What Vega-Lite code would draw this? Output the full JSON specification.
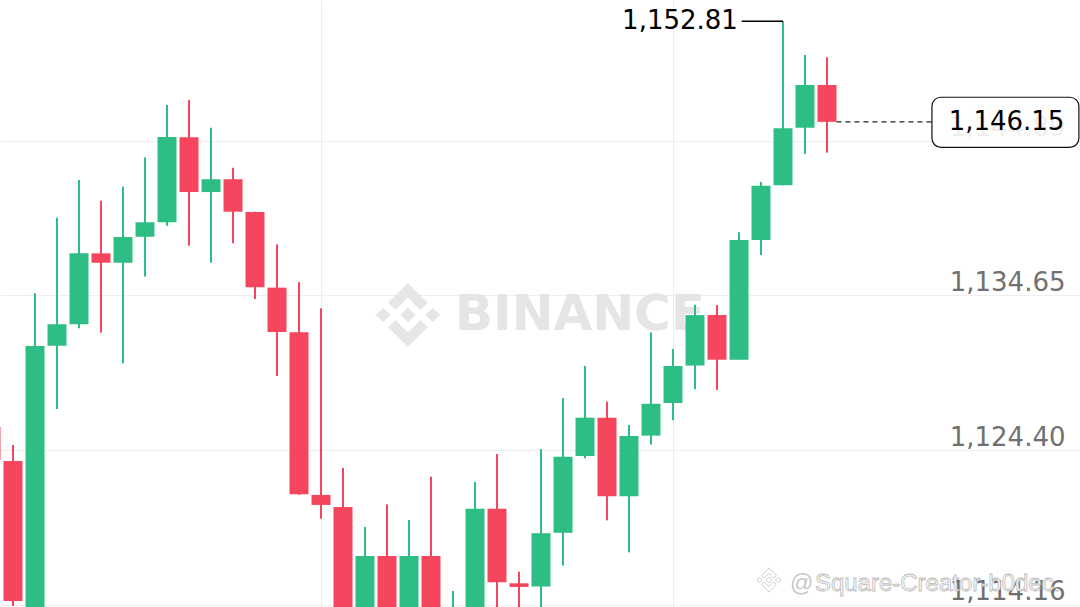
{
  "$schema": "https://vega.github.io/schema/vega-lite/v6.json",
  "width": 1080,
  "height": 607,
  "padding": 0,
  "autosize": "none",
  "background": "#ffffff",
  "config": {"view": {"stroke": null}},
  "datasets": {
    "candles": [
      {"i": -1, "o": 1125.94, "h": 1126.5, "l": 1123.3, "c": 1123.76},
      {"i": 0, "o": 1123.69, "h": 1124.75, "l": 1114.09, "c": 1114.42},
      {"i": 1, "o": 1113.9, "h": 1134.8, "l": 1113.6, "c": 1131.31},
      {"i": 2, "o": 1131.33, "h": 1139.8, "l": 1127.13, "c": 1132.74},
      {"i": 3, "o": 1132.74, "h": 1142.3, "l": 1132.48, "c": 1137.44},
      {"i": 4, "o": 1137.44, "h": 1140.93, "l": 1132.19, "c": 1136.82},
      {"i": 5, "o": 1136.82, "h": 1141.86, "l": 1130.16, "c": 1138.52},
      {"i": 6, "o": 1138.54, "h": 1143.8, "l": 1135.9, "c": 1139.5},
      {"i": 7, "o": 1139.5, "h": 1147.27, "l": 1139.27, "c": 1145.15},
      {"i": 8, "o": 1145.13, "h": 1147.6, "l": 1137.95, "c": 1141.5},
      {"i": 9, "o": 1141.5, "h": 1145.76, "l": 1136.82, "c": 1142.35},
      {"i": 10, "o": 1142.35, "h": 1143.11, "l": 1138.11, "c": 1140.2},
      {"i": 11, "o": 1140.18, "h": 1140.2, "l": 1134.42, "c": 1135.19},
      {"i": 12, "o": 1135.17, "h": 1138.04, "l": 1129.32, "c": 1132.23},
      {"i": 13, "o": 1132.21, "h": 1135.54, "l": 1121.45, "c": 1121.48},
      {"i": 14, "o": 1121.44, "h": 1133.8, "l": 1119.87, "c": 1120.78},
      {"i": 15, "o": 1120.64, "h": 1123.23, "l": 1113.5, "c": 1113.8},
      {"i": 16, "o": 1113.8, "h": 1119.32, "l": 1113.5, "c": 1117.4},
      {"i": 17, "o": 1117.4, "h": 1120.82, "l": 1113.5, "c": 1113.8},
      {"i": 18, "o": 1113.8, "h": 1119.78, "l": 1113.5, "c": 1117.4},
      {"i": 19, "o": 1117.4, "h": 1122.65, "l": 1113.5, "c": 1113.8},
      {"i": 20, "o": 1113.6, "h": 1115.08, "l": 1113.4, "c": 1113.9},
      {"i": 21, "o": 1113.8, "h": 1122.3, "l": 1113.5, "c": 1120.53},
      {"i": 22, "o": 1120.53, "h": 1124.15, "l": 1113.5, "c": 1115.66},
      {"i": 23, "o": 1115.59, "h": 1116.36, "l": 1113.6, "c": 1115.35},
      {"i": 24, "o": 1115.37, "h": 1124.48, "l": 1113.6, "c": 1118.9},
      {"i": 25, "o": 1118.94, "h": 1127.86, "l": 1116.76, "c": 1123.97},
      {"i": 26, "o": 1124.02, "h": 1129.98, "l": 1123.87, "c": 1126.56},
      {"i": 27, "o": 1126.56, "h": 1127.62, "l": 1119.76, "c": 1121.35},
      {"i": 28, "o": 1121.35, "h": 1126.07, "l": 1117.64, "c": 1125.35},
      {"i": 29, "o": 1125.37, "h": 1132.21, "l": 1124.77, "c": 1127.48},
      {"i": 30, "o": 1127.53, "h": 1131.11, "l": 1126.39, "c": 1129.98},
      {"i": 31, "o": 1130.01, "h": 1134.04, "l": 1128.44, "c": 1133.35},
      {"i": 32, "o": 1133.36, "h": 1134.02, "l": 1128.39, "c": 1130.4},
      {"i": 33, "o": 1130.4, "h": 1138.84, "l": 1130.4, "c": 1138.33},
      {"i": 34, "o": 1138.33, "h": 1142.17, "l": 1137.33, "c": 1141.92},
      {"i": 35, "o": 1141.95, "h": 1152.81, "l": 1141.95, "c": 1145.72},
      {"i": 36, "o": 1145.76, "h": 1150.58, "l": 1144.02, "c": 1148.59},
      {"i": 37, "o": 1148.59, "h": 1150.43, "l": 1144.11, "c": 1146.15}
    ]
  },
  "layer": [
    {
      "data": {"values": [{"x": 17.95, "y": 1133.36}]},
      "mark": {
        "type": "point",
        "filled": true,
        "opacity": 1,
        "color": "#e6e6e6",
        "size": 4096,
        "shape": "M-0.39,-0.16L0,-0.548L0.39,-0.156L0.618,-0.385L0,-1L-0.616,-0.384ZM-1,0L-0.773,-0.227L-0.545,0L-0.773,0.227ZM-0.39,0.16L0,0.548L0.39,0.158L0.618,0.385L0,1L-0.618,0.385ZM0.545,0L0.773,-0.227L1,0L0.773,0.227ZM0.231,0L0,-0.231L-0.231,0L0,0.231Z"
      },
      "encoding": {
        "x": {"field": "x", "type": "quantitative", "scale": {"domain": [-0.591, 48.5], "nice": false, "zero": false, "padding": 0},
              "axis": {"values": [14, 30], "grid": true, "gridColor": "#eeeeee", "gridWidth": 1, "labels": false, "ticks": false, "domain": false, "title": null}},
        "y": {"field": "y", "type": "quantitative", "scale": {"domain": [1114.02, 1154.22], "nice": false, "zero": false, "padding": 0},
              "axis": {"orient": "right", "values": [1114.16, 1124.4, 1134.65, 1144.89], "format": ",.2f", "grid": true, "gridColor": "#eeeeee", "gridWidth": 1,
                       "ticks": false, "tickSize": 0, "domain": false, "labelPadding": -15, "labelAlign": "right", "labelBaseline": "alphabetic",
                       "labelOffset": -5, "labelFont": "DejaVu Sans", "labelFontSize": 26, "labelColor": "#707070", "labelFlush": false,
                       "labelOverlap": false, "title": null}}
      }
    },
    {
      "data": {"values": [{"x": 20.09, "y": 1133.39, "t": "BINANCE"}]},
      "mark": {"type": "text", "align": "left", "baseline": "middle", "font": "DejaVu Sans", "fontWeight": "bold", "fontSize": 50, "color": "#e5e5e5"},
      "encoding": {
        "x": {"field": "x", "type": "quantitative"},
        "y": {"field": "y", "type": "quantitative"},
        "text": {"field": "t"}
      }
    },
    {
      "data": {"values": [{"x": 34.36, "y": 1115.81}]},
      "mark": {
        "type": "point",
        "filled": false,
        "opacity": 1,
        "stroke": "#c4c4c4",
        "strokeWidth": 0.9,
        "size": 576,
        "shape": "M-0.39,-0.16L0,-0.548L0.39,-0.156L0.618,-0.385L0,-1L-0.616,-0.384ZM-1,0L-0.773,-0.227L-0.545,0L-0.773,0.227ZM-0.39,0.16L0,0.548L0.39,0.158L0.618,0.385L0,1L-0.618,0.385ZM0.545,0L0.773,-0.227L1,0L0.773,0.227ZM0.231,0L0,-0.231L-0.231,0L0,0.231Z"
      },
      "encoding": {
        "x": {"field": "x", "type": "quantitative"},
        "y": {"field": "y", "type": "quantitative"}
      }
    },
    {
      "data": {"values": [{"x": 35.32, "y": 1115.54, "t": "@"}]},
      "mark": {"type": "text", "align": "left", "baseline": "middle", "font": "Liberation Sans", "fontSize": 23, "color": "#c8c8c8"},
      "encoding": {
        "x": {"field": "x", "type": "quantitative"},
        "y": {"field": "y", "type": "quantitative"},
        "text": {"field": "t"}
      }
    },
    {
      "data": {"values": [{"x": 36.45, "y": 1115.54, "t": "Square-Creator-b0dec."}]},
      "mark": {"type": "text", "align": "left", "baseline": "middle", "font": "Liberation Sans", "fontSize": 24, "fill": "#ffffff", "stroke": "#b8b8b8", "strokeWidth": 0.8},
      "encoding": {
        "x": {"field": "x", "type": "quantitative"},
        "y": {"field": "y", "type": "quantitative"},
        "text": {"field": "t"}
      }
    },
    {
      "data": {"name": "candles"},
      "mark": {"type": "rule", "strokeWidth": 2, "clip": true},
      "encoding": {
        "x": {"field": "i", "type": "quantitative"},
        "y": {"field": "l", "type": "quantitative"},
        "y2": {"field": "h"},
        "color": {"condition": {"test": "datum.c >= datum.o", "value": "#2ebd85"}, "value": "#f6465d"}
      }
    },
    {
      "data": {"name": "candles"},
      "mark": {"type": "bar", "size": 19, "orient": "vertical", "clip": true},
      "encoding": {
        "x": {"field": "i", "type": "quantitative"},
        "y": {"field": "o", "type": "quantitative"},
        "y2": {"field": "c"},
        "color": {"condition": {"test": "datum.c >= datum.o", "value": "#2ebd85"}, "value": "#f6465d"}
      }
    },
    {
      "data": {"values": [{"x": 33.12, "x2": 35, "y": 1152.81}]},
      "mark": {"type": "rule", "color": "#000000", "strokeWidth": 1.4},
      "encoding": {
        "x": {"field": "x", "type": "quantitative"},
        "x2": {"field": "x2"},
        "y": {"field": "y", "type": "quantitative"}
      }
    },
    {
      "data": {"values": [{"x": 32.95, "y": 1152.81, "t": "1,152.81"}]},
      "mark": {"type": "text", "align": "right", "baseline": "middle", "font": "DejaVu Sans", "fontSize": 26, "color": "#000000"},
      "encoding": {
        "x": {"field": "x", "type": "quantitative"},
        "y": {"field": "y", "type": "quantitative"},
        "text": {"field": "t"}
      }
    },
    {
      "data": {"values": [{"x": 37.43, "x2": 41.77, "y": 1146.15}]},
      "mark": {"type": "rule", "color": "#222222", "strokeWidth": 1.2, "strokeDash": [5, 4]},
      "encoding": {
        "x": {"field": "x", "type": "quantitative"},
        "x2": {"field": "x2"},
        "y": {"field": "y", "type": "quantitative"}
      }
    },
    {
      "data": {"values": [{"x": 41.77, "x2": 48.45, "y": 1147.78, "y2": 1144.46}]},
      "mark": {"type": "rect", "fill": "#ffffff", "fillOpacity": 0.88, "stroke": "#111111", "strokeWidth": 1.2, "cornerRadius": 9},
      "encoding": {
        "x": {"field": "x", "type": "quantitative"},
        "x2": {"field": "x2"},
        "y": {"field": "y", "type": "quantitative"},
        "y2": {"field": "y2"}
      }
    },
    {
      "data": {"values": [{"x": 45.16, "y": 1146.15, "t": "1,146.15"}]},
      "mark": {"type": "text", "align": "center", "baseline": "middle", "font": "DejaVu Sans", "fontSize": 26, "color": "#000000"},
      "encoding": {
        "x": {"field": "x", "type": "quantitative"},
        "y": {"field": "y", "type": "quantitative"},
        "text": {"field": "t"}
      }
    }
  ]
}
